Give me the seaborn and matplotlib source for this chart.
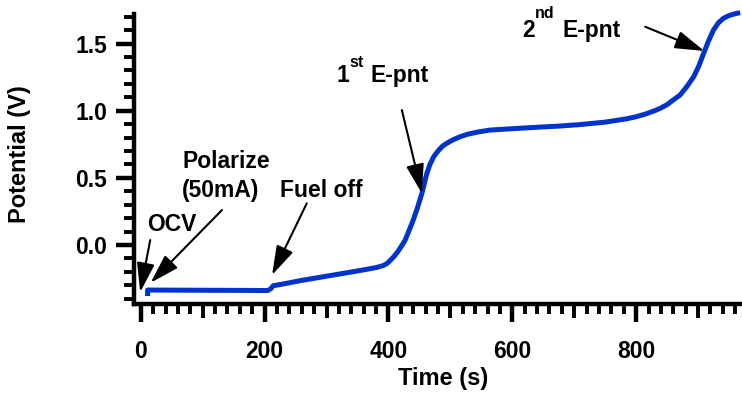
import matplotlib
matplotlib.use("Agg")
import matplotlib.pyplot as plt
from matplotlib.ticker import FixedLocator, MultipleLocator, NullFormatter
import seaborn as sns
import pandas as pd

# Potential trace during the fuel-off test
time_s = [11, 11, 60, 120, 180, 205, 210, 214, 230, 260, 300, 350, 380, 392,
          398, 403, 409, 415, 421, 427, 433, 440, 447, 454, 458, 462, 467,
          473, 480, 487, 494, 505, 515, 527, 545, 564, 600, 629, 677, 710,
          750, 785, 800, 815, 830, 839, 850, 860, 871, 882, 893, 901, 909,
          917, 925, 933, 941, 950, 960, 968]
potential_v = [-0.38, -0.335, -0.336, -0.337, -0.338, -0.339, -0.325, -0.303,
               -0.29, -0.263, -0.232, -0.193, -0.168, -0.152, -0.136, -0.114,
               -0.085, -0.05, -0.008, 0.037, 0.105, 0.186, 0.28, 0.385, 0.46,
               0.534, 0.60, 0.657, 0.70, 0.735, 0.757, 0.785, 0.805, 0.824,
               0.842, 0.856, 0.866, 0.874, 0.886, 0.897, 0.915, 0.94, 0.955,
               0.975, 1.0, 1.018, 1.045, 1.08, 1.117, 1.18, 1.253, 1.33,
               1.427, 1.52, 1.601, 1.655, 1.688, 1.708, 1.722, 1.73]

x_major_ticks = [0, 200, 400, 600, 800]
x_mid_ticks = [100, 300, 500, 700, 900]
y_major_ticks = [0.0, 0.5, 1.0, 1.5]
y_tick_labels = ["0.0", "0.5", "1.0", "1.5"]

sns.set_theme(style="ticks")
plt.rcParams["font.family"] = ["Liberation Sans", "DejaVu Sans"]
plt.rcParams["font.weight"] = "bold"
plt.rcParams["axes.labelweight"] = "bold"

fig = plt.figure(figsize=(7.42, 3.94), dpi=100)
ax = fig.add_axes([134 / 742, 1 - 304 / 394, 1 - 134 / 742, 290 / 394])

df = pd.DataFrame({"Time (s)": time_s, "Potential (V)": potential_v})
sns.lineplot(data=df, x="Time (s)", y="Potential (V)", estimator=None,
             sort=False, color="#0033CC", linewidth=3.6, ax=ax)
for ln in ax.get_lines():
    ln.set_clip_on(False)
    ln.set_solid_capstyle("butt")
    ln.set_solid_joinstyle("round")

ax.set_xlim(-11, 971)
ax.set_ylim(-0.439, 1.72)

# spines
for side in ("top", "right"):
    ax.spines[side].set_visible(False)
for side in ("left", "bottom"):
    ax.spines[side].set_linewidth(3.2)
    ax.spines[side].set_color("black")

# ticks
ax.xaxis.set_major_locator(FixedLocator(x_major_ticks))
minor_x = [v for v in range(20, 980, 20) if v % 100 != 0]
ax.xaxis.set_minor_locator(FixedLocator(minor_x))
ax.yaxis.set_major_locator(FixedLocator(y_major_ticks))
ax.set_yticklabels(y_tick_labels)
ax.yaxis.set_minor_locator(MultipleLocator(0.1))
ax.tick_params(axis="both", which="major", direction="out", length=13,
               width=3.2, color="black", labelsize=16.5, labelcolor="black")
ax.tick_params(axis="both", which="minor", direction="out", length=7,
               width=2.8, color="black")
ax.tick_params(axis="x", which="major", pad=13)
ax.tick_params(axis="y", which="major", pad=6.5)
for lab in ax.get_xticklabels() + ax.get_yticklabels():
    lab.set_fontweight("bold")

# intermediate-length ticks every 100 s
sec = ax.secondary_xaxis("bottom")
sec.xaxis.set_major_locator(FixedLocator(x_mid_ticks))
sec.xaxis.set_major_formatter(NullFormatter())
sec.tick_params(axis="x", which="major", direction="out", length=10,
                width=2.8, color="black")
sec.spines["bottom"].set_visible(False)

ax.set_xlabel("Time (s)", fontsize=17, fontweight="bold", color="black")
ax.set_ylabel("Potential (V)", fontsize=17, fontweight="bold", color="black")
ax.xaxis.set_label_coords(0.509, -0.217)
ax.yaxis.set_label_coords(-0.170, 0.517)

# annotations
txt = dict(fontsize=16.5, fontweight="bold", color="black", va="baseline",
           ha="left")
sup = dict(fontsize=11.5, fontweight="bold", color="black", va="baseline",
           ha="left")
ax.text(9.8, 0.106, "OCV", **txt)
ax.text(66.7, 0.571, "Polarize", **txt)
ax.text(66.0, 0.355, "(50mA)", **txt)
ax.text(225, 0.36, "Fuel off", **txt)
ax.text(316.6, 1.216, "1", **txt)
ax.text(336.5, 1.328, "st", **sup)
ax.text(370.4, 1.216, "E-pnt", **txt)
ax.text(615.5, 1.551, "2", **txt)
ax.text(637.0, 1.688, "nd", **sup)
ax.text(681.7, 1.551, "E-pnt", **txt)

arrow = dict(arrowstyle="-|>,head_length=1.8,head_width=0.55",
             color="black", lw=1.5, shrinkA=0, shrinkB=0, mutation_scale=10)
arrows = [((15.2, 0.037), (-1.0, -0.35)),
          ((131, 0.26), (16, -0.28)),
          ((268, 0.31), (212, -0.223)),
          ((421.6, 1.005), (454, 0.385)),
          ((814.7, 1.625), (910, 1.445))]
for start, tip in arrows:
    ax.annotate("", xy=tip, xytext=start, arrowprops=arrow,
                annotation_clip=False)

fig.savefig("out.png", dpi=100)
